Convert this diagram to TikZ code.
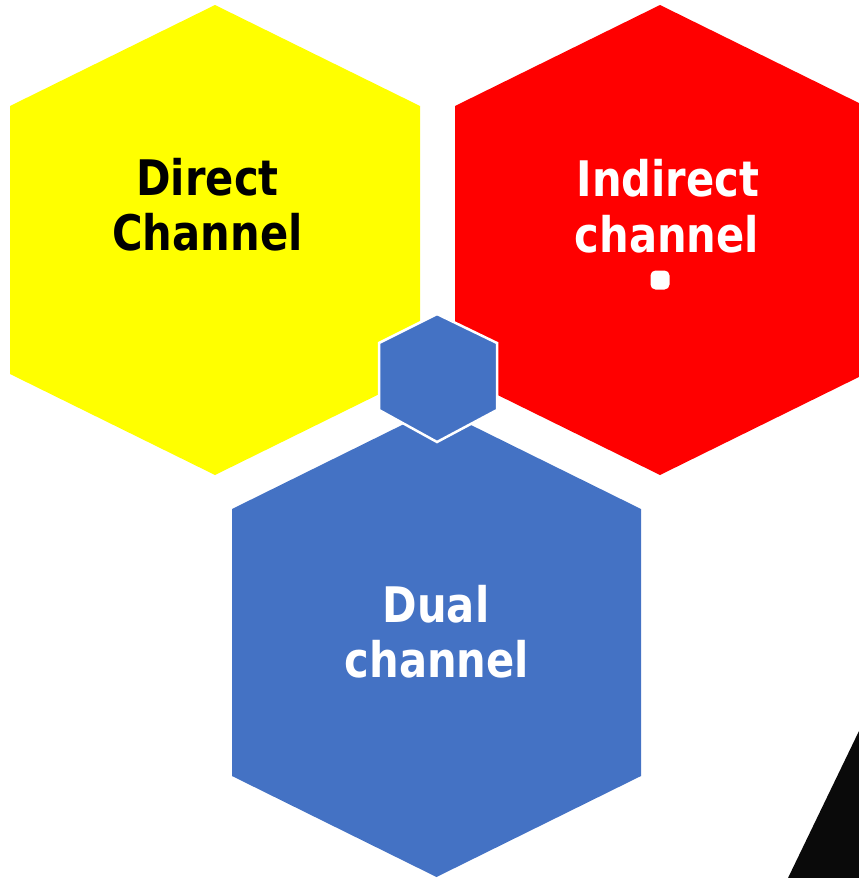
\documentclass[tikz,border=0pt]{standalone}
\usepackage{fontspec}
\newfontfamily\lblfont{DejaVu Sans}[FakeStretch=0.85]
\definecolor{hexyellow}{RGB}{255,255,0}
\definecolor{hexred}{RGB}{255,0,0}
\definecolor{hexblue}{RGB}{68,114,196}
\definecolor{wedge}{RGB}{10,10,10}
\begin{document}
\begin{tikzpicture}[x=1pt,y=-1pt,
  lbl/.style={font=\lblfont\bfseries\fontsize{49}{55}\selectfont, inner sep=0pt, anchor=base}]
\useasboundingbox (0,0) rectangle (859,878);
\clip (0,0) rectangle (859,878);

% yellow hexagon
\fill[hexyellow] (215,5) -- (10,106) -- (10,374) -- (215,475) -- (420,374) -- (420,106) -- cycle;
% red hexagon
\fill[hexred] (660,5) -- (455,106) -- (455,374) -- (660,475) -- (865,374) -- (865,106) -- cycle;
% large blue hexagon
\fill[hexblue] (436.5,408) -- (232,509) -- (232,776) -- (436.5,877) -- (641,776) -- (641,509) -- cycle;
% small blue hexagon in the middle
\filldraw[hexblue, draw=white, line width=2.5pt, line join=miter]
  (437,314) -- (379,343) -- (379,410) -- (437,442) -- (497,410) -- (497,343) -- cycle;

% dark wedge at the lower right corner
\fill[wedge] (858.5,732) -- (788,878) -- (865,878) -- (865,720) -- cycle;

% labels
\node[lbl, text=black] (direct1) at (207.5,195) {Direct};
\node[lbl, text=black] (direct2) at (207.5,250) {Channel};
\node[lbl, text=white] (indirect1) at (668,196) {Indirect};
\node[lbl, text=white] (indirect2) at (667,252) {channel};
\node[fill=white, rounded corners=5pt, minimum width=19pt, minimum height=19pt, inner sep=0pt] (bullet) at (660,280) {};
\node[lbl, text=white] (dual1) at (436,622) {Dual};
\node[lbl, text=white] (dual2) at (437,677) {channel};
\end{tikzpicture}
\end{document}
